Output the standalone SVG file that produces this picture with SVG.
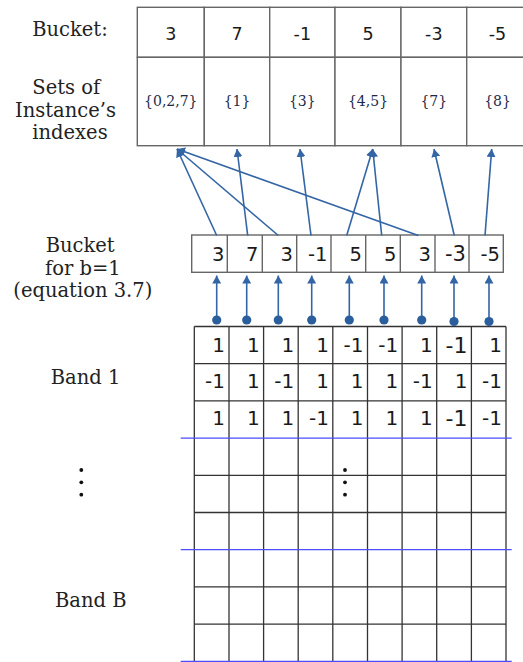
<svg xmlns="http://www.w3.org/2000/svg" width="523" height="662" viewBox="0 0 523 662">
  <style>
    .lbl { font-family: "DejaVu Serif", "Liberation Serif", serif; font-size: 19.5px; fill: #222; }
    .num { font-family: "DejaVu Sans", "Liberation Sans", sans-serif; fill: #1a1a1a; }
    .set { font-family: "DejaVu Serif", "Liberation Serif", serif; font-size: 14px; fill: #1d2a4a; text-anchor: middle; }
    .cell { fill: #fff; stroke: #666; stroke-width: 1.4; }
    .grid { stroke: #333; stroke-width: 1.3; fill: none; }
    .band { stroke: #4d4dff; stroke-width: 1.2; }
    .conn { stroke: #3465a4; stroke-width: 1.6; fill: none; }
    .dot { fill: #2a5e9c; }
    .ell { fill: #111; }
  </style>
  <defs>
    <marker id="ah" markerUnits="userSpaceOnUse" markerWidth="8" markerHeight="9" viewBox="0 0 8 9" refX="8" refY="4.5" orient="auto">
      <path d="M0,0 L8,4.5 L0,9 z" fill="#3465a4"/>
    </marker>
  </defs>

  <rect width="523" height="662" fill="#fff"/>

  <!-- Side labels -->
  <g id="labels">
    <text class="lbl" x="70" y="36" text-anchor="middle">Bucket:</text>
    <text class="lbl" x="32.3" y="94">Sets of</text>
    <text class="lbl" x="15" y="116.5">Instance’s</text>
    <text class="lbl" x="32.3" y="138.5">indexes</text>
    <text class="lbl" x="45.7" y="251.7">Bucket</text>
    <text class="lbl" x="45" y="275">for b=1</text>
    <text class="lbl" x="13.3" y="296.5">(equation 3.7)</text>
    <text class="lbl" x="50.7" y="384.3">Band 1</text>
    <text class="lbl" x="55" y="606.7">Band B</text>
    <circle class="ell" cx="81.3" cy="470" r="1.9"/>
    <circle class="ell" cx="81.3" cy="482.3" r="1.9"/>
    <circle class="ell" cx="81.3" cy="494.7" r="1.9"/>
  </g>

  <!-- Bucket table: bucket value over its set of instance indexes -->
  <g id="bucket-table">
    <g id="bucket-3">
      <rect class="cell" x="137.3" y="7.3" width="67" height="50"/>
      <rect class="cell" x="137.3" y="57.3" width="67" height="88.4"/>
      <text class="num" x="170.8" y="39.5" font-size="17.5" text-anchor="middle">3</text>
      <text class="set" x="170.8" y="106">{0,2,7}</text>
    </g>
    <g id="bucket-7">
      <rect class="cell" x="204.3" y="7.3" width="65.4" height="50"/>
      <rect class="cell" x="204.3" y="57.3" width="65.4" height="88.4"/>
      <text class="num" x="237" y="39.5" font-size="17.5" text-anchor="middle">7</text>
      <text class="set" x="237" y="106">{1}</text>
    </g>
    <g id="bucket-m1">
      <rect class="cell" x="269.7" y="7.3" width="65.3" height="50"/>
      <rect class="cell" x="269.7" y="57.3" width="65.3" height="88.4"/>
      <text class="num" x="302.3" y="39.5" font-size="17.5" text-anchor="middle">-1</text>
      <text class="set" x="302.3" y="106">{3}</text>
    </g>
    <g id="bucket-5">
      <rect class="cell" x="335" y="7.3" width="66" height="50"/>
      <rect class="cell" x="335" y="57.3" width="66" height="88.4"/>
      <text class="num" x="368" y="39.5" font-size="17.5" text-anchor="middle">5</text>
      <text class="set" x="368" y="106">{4,5}</text>
    </g>
    <g id="bucket-m3">
      <rect class="cell" x="401" y="7.3" width="65.7" height="50"/>
      <rect class="cell" x="401" y="57.3" width="65.7" height="88.4"/>
      <text class="num" x="433.8" y="39.5" font-size="17.5" text-anchor="middle">-3</text>
      <text class="set" x="433.8" y="106">{7}</text>
    </g>
    <g id="bucket-m5">
      <rect class="cell" x="466.7" y="7.3" width="66" height="50"/>
      <rect class="cell" x="466.7" y="57.3" width="66" height="88.4"/>
      <text class="num" x="497.5" y="39.5" font-size="17.5" text-anchor="middle">-5</text>
      <text class="set" x="497.5" y="106">{8}</text>
    </g>
  </g>

  <!-- Bucket of each instance for band b=1 -->
  <g id="band1-buckets" font-size="19.5">
    <rect class="cell" x="191.7" y="235" width="311.6" height="37.3"/>
    <g class="grid" style="stroke:#666;stroke-width:1.4">
      <line x1="227.3" y1="235" x2="227.3" y2="272.3"/>
      <line x1="262.3" y1="235" x2="262.3" y2="272.3"/>
      <line x1="296.7" y1="235" x2="296.7" y2="272.3"/>
      <line x1="331" y1="235" x2="331" y2="272.3"/>
      <line x1="365.7" y1="235" x2="365.7" y2="272.3"/>
      <line x1="400.3" y1="235" x2="400.3" y2="272.3"/>
      <line x1="435" y1="235" x2="435" y2="272.3"/>
      <line x1="469" y1="235" x2="469" y2="272.3"/>
    </g>
    <g class="num" text-anchor="end">
      <text x="224.5" y="260.7">3</text>
      <text x="258.5" y="260.7">7</text>
      <text x="293" y="260.7">3</text>
      <text x="327.5" y="260.7">-1</text>
      <text x="362" y="260.7">5</text>
      <text x="396.5" y="260.7">5</text>
      <text x="431" y="260.7">3</text>
      <text x="466" y="260.7" font-size="21">-3</text>
      <text x="500" y="260.7">-5</text>
    </g>
  </g>

  <!-- Signature matrix -->
  <g id="matrix">
    <g class="grid">
      <line x1="194.3" y1="326.5" x2="194.3" y2="661.3"/>
      <line x1="229" y1="326.5" x2="229" y2="661.3"/>
      <line x1="263.6" y1="326.5" x2="263.6" y2="661.3"/>
      <line x1="298.2" y1="326.5" x2="298.2" y2="661.3"/>
      <line x1="332.8" y1="326.5" x2="332.8" y2="661.3"/>
      <line x1="367.5" y1="326.5" x2="367.5" y2="661.3"/>
      <line x1="402.1" y1="326.5" x2="402.1" y2="661.3"/>
      <line x1="436.7" y1="326.5" x2="436.7" y2="661.3"/>
      <line x1="471.4" y1="326.5" x2="471.4" y2="661.3"/>
      <line x1="506" y1="326.5" x2="506" y2="661.3"/>
      <line x1="194.3" y1="326.5" x2="506" y2="326.5"/>
      <line x1="194.3" y1="363.7" x2="506" y2="363.7"/>
      <line x1="194.3" y1="400.9" x2="506" y2="400.9"/>
      <line x1="194.3" y1="475.3" x2="506" y2="475.3"/>
      <line x1="194.3" y1="512.5" x2="506" y2="512.5"/>
      <line x1="194.3" y1="586.9" x2="506" y2="586.9"/>
      <line x1="194.3" y1="624.1" x2="506" y2="624.1"/>
    </g>
    <g class="band">
      <line x1="180.7" y1="438.1" x2="511.7" y2="438.1"/>
      <line x1="180.7" y1="549.7" x2="511.7" y2="549.7"/>
      <line x1="180.7" y1="661.3" x2="511.7" y2="661.3"/>
    </g>
    <g class="num" font-size="20" text-anchor="end">
      <text x="225" y="352.3">1</text>
      <text x="259.7" y="352.3">1</text>
      <text x="294.3" y="352.3">1</text>
      <text x="328.9" y="352.3">1</text>
      <text x="363.5" y="352.3">-1</text>
      <text x="398.2" y="352.3">-1</text>
      <text x="432.8" y="352.3">1</text>
      <text x="467.4" y="353" font-size="22">-1</text>
      <text x="502" y="352.3">1</text>

      <text x="225" y="388.3">-1</text>
      <text x="259.7" y="388.3">1</text>
      <text x="294.3" y="388.3">-1</text>
      <text x="328.9" y="388.3">1</text>
      <text x="363.5" y="388.3">1</text>
      <text x="398.2" y="388.3">1</text>
      <text x="432.8" y="388.3">-1</text>
      <text x="467.4" y="388.3">1</text>
      <text x="502" y="388.3">-1</text>

      <text x="225" y="425">1</text>
      <text x="259.7" y="425">1</text>
      <text x="294.3" y="425">1</text>
      <text x="328.9" y="425">-1</text>
      <text x="363.5" y="425">1</text>
      <text x="398.2" y="425">1</text>
      <text x="432.8" y="425">1</text>
      <text x="467.4" y="426" font-size="22">-1</text>
      <text x="502" y="425">-1</text>
    </g>
    <circle class="ell" cx="345" cy="470" r="1.9"/>
    <circle class="ell" cx="345" cy="482.3" r="1.9"/>
    <circle class="ell" cx="345" cy="494.7" r="1.9"/>
  </g>

  <!-- Connectors -->
  <g id="connectors">
    <g class="conn" marker-end="url(#ah)">
      <line x1="216.7" y1="320" x2="216.7" y2="275.5"/>
      <line x1="246.7" y1="320" x2="246.7" y2="275.5"/>
      <line x1="278.3" y1="320" x2="278.3" y2="275.5"/>
      <line x1="311.7" y1="320" x2="311.7" y2="275.5"/>
      <line x1="349.3" y1="320" x2="349.3" y2="275.5"/>
      <line x1="384" y1="320" x2="384" y2="275.5"/>
      <line x1="421.7" y1="320" x2="421.7" y2="275.5"/>
      <line x1="454" y1="321" x2="454" y2="275.5"/>
      <line x1="489" y1="321" x2="489" y2="275.5"/>

      <line x1="216.7" y1="235.5" x2="177" y2="149"/>
      <line x1="247.7" y1="235.5" x2="237" y2="149"/>
      <line x1="278.3" y1="235.5" x2="177" y2="149"/>
      <line x1="311" y1="235.5" x2="300" y2="149"/>
      <line x1="346.7" y1="235.5" x2="372.7" y2="149"/>
      <line x1="381.7" y1="235.5" x2="372.7" y2="149"/>
      <line x1="418.3" y1="235.5" x2="177" y2="149"/>
      <line x1="454.3" y1="235.5" x2="434" y2="149"/>
      <line x1="485" y1="235.5" x2="491.7" y2="149"/>
    </g>
    <g>
      <circle class="dot" cx="216.7" cy="320" r="4.6"/>
      <circle class="dot" cx="246.7" cy="320" r="4.6"/>
      <circle class="dot" cx="278.3" cy="320" r="4.6"/>
      <circle class="dot" cx="311.7" cy="320" r="4.6"/>
      <circle class="dot" cx="349.3" cy="320" r="4.6"/>
      <circle class="dot" cx="384" cy="320" r="4.6"/>
      <circle class="dot" cx="421.7" cy="320" r="4.6"/>
      <circle class="dot" cx="454" cy="321.5" r="4.6"/>
      <circle class="dot" cx="489" cy="321.5" r="4.6"/>
    </g>
  </g>
</svg>
